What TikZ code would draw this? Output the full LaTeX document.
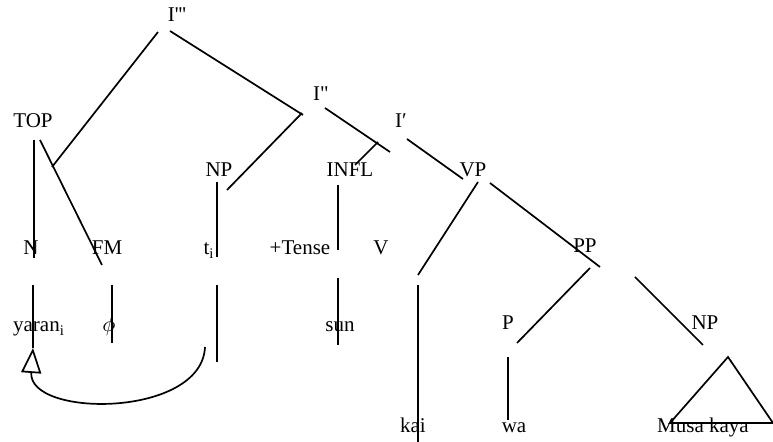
\documentclass[tikz,border=0pt]{standalone}
\usepackage{fontspec}
\setmainfont{Liberation Serif}
\usetikzlibrary{arrows.meta}

\begin{document}
\begin{tikzpicture}[x=0.5pt, y=-0.5pt, line width=0.85pt,
  every node/.style={font=\fontsize{10.5}{12}\selectfont, inner sep=0pt, anchor=base},
  branch/.style={line width=0.85pt}]
  \useasboundingbox (0,0) rectangle (773,442);

  % labels
  \node (ithree) at (177,22) {I\textquotesingle\textquotesingle\textquotesingle};
  \node (top)    at (33,128) {TOP};
  \node (itwo)   at (321,101) {I\textquotedbl};
  \node (ione)   at (401,128) {I′};
  \node (np)     at (219,177) {NP};
  \node (infl)   at (350,177) {INFL};
  \node (vp)     at (473,177) {VP};
  \node (n)      at (31,255) {N};
  \node (fm)     at (107,255) {FM};
  \node (trace)  at (209,255) {t\textsubscript{i}};
  \node (tense)  at (300,255) {+Tense};
  \node (v)      at (381,255) {V};
  \node (pp)     at (585,253) {PP};
  \node (yaran)  at (39,332) {yaran\textsubscript{i}};
  \node (phi)    at (109,332) {$\phi$};
  \node (sun)    at (340,332) {sun};
  \node (p)      at (508,330) {P};
  \node (npobj)  at (705,330) {NP};
  \node (kai)    at (413,433) {kai};
  \node (wa)     at (514,433) {wa};
  \node (musa)   at (703,433) {Musa kaya};

  % branch ends
  \coordinate (ithreeL) at (158,32);  \coordinate (topR)   at (52,167);
  \coordinate (ithreeR) at (170,31);  \coordinate (itwoT)  at (303,115);
  \coordinate (itwoL)   at (302,113); \coordinate (npR)    at (227,190);
  \coordinate (itwoR)   at (325,108); \coordinate (ioneL)  at (390,152);
  \coordinate (ioneD)   at (378,142); \coordinate (inflT)  at (355,165);
  \coordinate (topA)    at (34,140);  \coordinate (nT)     at (34,258);
  \coordinate (topB)    at (40,140);  \coordinate (fmT)    at (102,265);
  \coordinate (npD)     at (217,182); \coordinate (traceT) at (217,257);
  \coordinate (inflD)   at (338,185); \coordinate (tenseR) at (338,250);
  \coordinate (ioneR)   at (407,139); \coordinate (vpT)    at (463,179);
  \coordinate (vpL)     at (478,182); \coordinate (vT)     at (418,275);
  \coordinate (vpR)     at (490,183); \coordinate (ppT)    at (600,267);
  \coordinate (nD)      at (33,285);  \coordinate (yaranD) at (33,348);
  \coordinate (fmD)     at (112,285); \coordinate (phiD)   at (112,343);
  \coordinate (traceD)  at (217,285); \coordinate (traceE) at (217,362);
  \coordinate (tenseD)  at (338,278); \coordinate (sunD)   at (338,345);
  \coordinate (vD)      at (418,285); \coordinate (kaiD)   at (418,442);
  \coordinate (ppL)     at (590,268); \coordinate (pT)     at (517,343);
  \coordinate (ppR)     at (635,277); \coordinate (npobjT) at (703,345);
  \coordinate (pD)      at (508,357); \coordinate (waT)    at (508,420);
  \coordinate (move)    at (205,347);

  \draw[branch] (ithreeL) -- (topR);
  \draw[branch] (ithreeR) -- (itwoT);
  \draw[branch] (itwoL) -- (npR);
  \draw[branch] (itwoR) -- (ioneL);
  \draw[branch] (ioneD) -- (inflT);
  \draw[branch] (topA) -- (nT);
  \draw[branch] (topB) -- (fmT);
  \draw[branch] (npD) -- (traceT);
  \draw[branch] (inflD) -- (tenseR);
  \draw[branch] (ioneR) -- (vpT);
  \draw[branch] (vpL) -- (vT);
  \draw[branch] (vpR) -- (ppT);
  \draw[branch] (nD) -- (yaranD);
  \draw[branch] (fmD) -- (phiD);
  \draw[branch] (traceD) -- (traceE);
  \draw[branch] (tenseD) -- (sunD);
  \draw[branch] (vD) -- (kaiD);
  \draw[branch] (ppL) -- (pT);
  \draw[branch] (ppR) -- (npobjT);
  \draw[branch] (pD) -- (waT);
  \draw[branch] (728,357) -- (670,423) -- (773,423) -- cycle;

  % movement arrow
  \draw[branch, -{Triangle[open, width=10pt, length=12.5pt]}]
    (move) .. controls (202,418) and (28,418) .. (yaranD);
\end{tikzpicture}
\end{document}
